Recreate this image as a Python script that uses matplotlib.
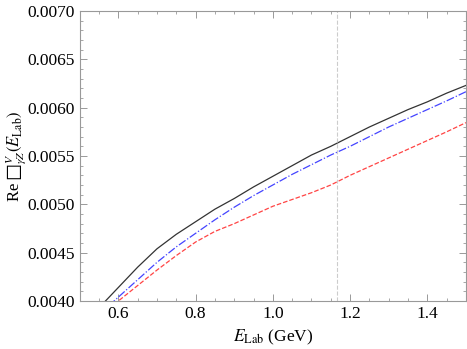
import numpy as np
import matplotlib
matplotlib.use("Agg")
import matplotlib.pyplot as plt
from matplotlib.ticker import MultipleLocator

plt.rcParams['font.family'] = ['Liberation Serif', 'DejaVu Serif']
plt.rcParams['mathtext.fontset'] = 'stix'

# Energie (GeV) et courbes
E = [0.55, 0.60, 0.65, 0.70, 0.75, 0.80, 0.85, 0.90, 0.95, 1.00,
     1.05, 1.10, 1.15, 1.20, 1.25, 1.30, 1.35, 1.40, 1.45, 1.50]
courbe_noire = [0.00393, 0.00414, 0.00435, 0.00454, 0.00469, 0.00482, 0.00495, 0.00506, 0.00518, 0.00529,
                0.00540, 0.00551, 0.00560, 0.00570, 0.00580, 0.00589, 0.00598, 0.00606, 0.00615, 0.00623]
courbe_bleue = [0.00386, 0.00404, 0.00422, 0.00440, 0.00456, 0.00470, 0.00484, 0.00497, 0.00509, 0.00520,
                0.00531, 0.00541, 0.00551, 0.00560, 0.00570, 0.00580, 0.00589, 0.00598, 0.00607, 0.006165]
courbe_rouge = [0.00383, 0.00400, 0.00416, 0.00432, 0.00447, 0.00461, 0.00472, 0.00480, 0.00489, 0.00498,
                0.00505, 0.00512, 0.00520, 0.00530, 0.00539, 0.00548, 0.00557, 0.00566, 0.00575, 0.005845]
E_qweak = 1.165

fig = plt.figure(figsize=(4.67, 3.49), dpi=100)
ax = fig.add_axes([0.1707, 0.1375, 0.827, 0.831])

ax.plot(E, courbe_noire, '-', color='#333333', lw=0.9)
ax.plot(E, courbe_bleue, '-.', color='#4444ff', lw=0.9)
ax.plot(E, courbe_rouge, '--', color='#ff4444', lw=0.9)
ax.axvline(E_qweak, color='#cccccc', ls='--', lw=0.8)

ax.set_xlim(0.5, 1.5)
ax.set_ylim(0.0040, 0.0070)
ax.xaxis.set_major_locator(MultipleLocator(0.2))
ax.xaxis.set_minor_locator(MultipleLocator(0.05))
ax.yaxis.set_major_locator(MultipleLocator(0.0005))
ax.yaxis.set_minor_locator(MultipleLocator(0.0001))
ax.yaxis.set_major_formatter(plt.FormatStrFormatter('%.4f'))
ax.xaxis.set_major_formatter(plt.FormatStrFormatter('%.1f'))

for s in ax.spines.values():
    s.set_color('#999999')
    s.set_linewidth(0.8)
ax.tick_params(which='both', direction='in', top=True, right=True, color='#999999', labelsize=12.5)
ax.tick_params(which='major', length=5, width=0.7)
ax.tick_params(which='minor', length=2.5, width=0.6)

ax.set_xlabel(r'$E_{\rm Lab}$ (GeV)', fontsize=12.5)
ax.set_ylabel('Re $\u25a1^{V}_{\\gamma Z}(E_{\\rm Lab})$', fontsize=12)
ax.yaxis.set_label_coords(-0.135, 0.5)

fig.savefig('out.png', dpi=100)
